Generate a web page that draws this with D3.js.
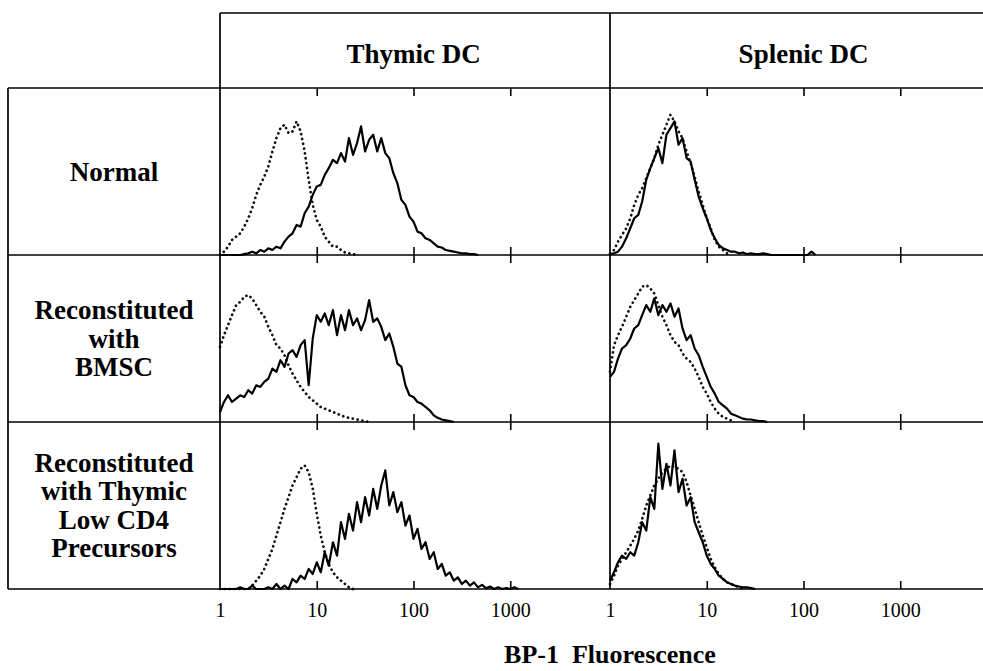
<!DOCTYPE html>
<html><head><meta charset="utf-8">
<script src="https://cdn.jsdelivr.net/npm/d3@7"></script>
<style>body{margin:0;background:#fff}svg{display:block}</style>
</head><body><svg id="c" width="983" height="671"></svg>
<script>
// ---------- DATA ----------
// log-spaced fluorescence channel centres (24 per decade)
const fluorBins = [1,1.1,1.21,1.33,1.47,1.62,1.78,1.96,2.15,2.37,2.61,2.87,3.16,3.48,3.83,4.22,4.64,5.11,5.62,6.19,6.81,7.5,8.25,9.09,
  10,11,12.1,13.3,14.7,16.2,17.8,19.6,21.5,23.7,26.1,28.7,31.6,34.8,38.3,42.2,46.4,51.1,56.2,61.9,68.1,75,82.5,90.9,
  100,110,121,133,147,162,178,196,215,237,261,287,316,348,383,422,464,511,562,619,681,750,825,909,
  1000,1100,1210,1330,1470,1620,1780,1960,2150,2370,2610,2870];

const columns = ["Thymic DC", "Splenic DC"];
const rowLabels = [["Normal"], ["Reconstituted", "with", "BMSC"], ["Reconstituted", "with Thymic", "Low CD4", "Precursors"]];
const tickLabels = [1, 10, 100, 1000];
const axisTitle = "BP-1  Fluorescence";

// relative cell counts (% of panel height) per channel
const thymicNormalSolid = [0,0,0,0,0,0,0.5,1,2,1,3,2,4,3,5,4,8,11,13,18,17,25,29,36,41,42,48,52,57,55,61,56,70,60,67,77,62,69,72,62,70,61,58,49,43,33,30,23,20,14,13,10,9,7,5,4.5,3,2.5,2,1.5,1,1,0.5,0.5,0];
const thymicNormalDotted = [0,2,5,9,11,13,17,22,28,36,42,47,53,62,70,76,78,73,74,80,74,62,45,30,21,17,11,8,5,5,3,1.5,1,0.5,0];
const splenicNormalSolid = [0.5,1,2,5,10,16,22,24,32,45,52,58,64,55,72,76,80,66,70,58,56,45,35,28,22,15,10,6,4,3,2,2,1,1.5,0.5,1,0.5,0.5,1,0.5,0,0,0,0,0,0,0,0,0,0,2,0];
const splenicNormalDotted = [1,3,8,12,16,22,30,36,40,46,52,58,66,72,78,84,80,74,70,62,55,47,38,30,22,16,9,5,3,1,0];
const thymicBmscSolid = [6,12,16,12,14,16,15,19,17,22,21,24,26,32,30,37,33,41,43,39,46,49,22,50,64,60,65,58,67,52,64,55,67,58,62,55,61,73,60,62,57,49,53,45,35,33,22,16,15,12,11,9,7,4,2.5,1.5,1,0.5,0];
const thymicBmscDotted = [45,52,58,64,70,72,75,76,74,70,66,63,57,52,46,44,40,34,29,25,21,18,15,13,11,9,8,7,6,5,4,3,2.5,2,1.5,1,0.5,0];
const splenicBmscSolid = [27,30,38,44,46,50,56,58,64,70,66,74,64,70,66,71,63,68,56,49,52,44,40,33,27,21,17,12,10,8,5,4,3,2,1.5,1.5,1,0.5,0.5,0];
const splenicBmscDotted = [30,46,52,57,63,69,73,77,81,82,80,77,70,63,58,52,48,46,41,38,36,32,27,21,17,12,8,5,3,2,1,0];
const thymicLowCd4Solid = [0,0,0,0,0,1,0,0,2,0,0,0,1,0,3,0,2,0,6,4,8,6,12,9,16,10,22,14,28,20,40,30,45,35,52,40,55,44,60,48,62,71,50,58,46,52,38,44,30,36,24,28,18,22,12,15,8,10,5,7,3,5,2,4,1,2.5,0.5,1.5,0,1,0,0.5,0,1,0];
const thymicLowCd4Dotted = [0,0,0,0,0,0,0,0,2,5,8,12,18,24,32,40,48,55,62,67,72,74,70,60,45,32,22,15,10,7,5,3,1,0];
const splenicLowCd4Solid = [5,10,16,20,18,22,20,28,40,35,55,48,87,60,75,62,83,58,66,50,55,40,34,28,20,15,12,8,6,4,3,2,1.5,1,1,0.5,0];
const splenicLowCd4Dotted = [3,8,14,18,22,26,30,35,42,50,56,62,66,70,72,74,73,72,70,64,56,48,40,32,25,18,13,9,6,4,3,2,1,0];

const panels = [
  {row:0, col:0, solid:thymicNormalSolid,  dotted:thymicNormalDotted},
  {row:0, col:1, solid:splenicNormalSolid, dotted:splenicNormalDotted},
  {row:1, col:0, solid:thymicBmscSolid,    dotted:thymicBmscDotted},
  {row:1, col:1, solid:splenicBmscSolid,   dotted:splenicBmscDotted},
  {row:2, col:0, solid:thymicLowCd4Solid,  dotted:thymicLowCd4Dotted},
  {row:2, col:1, solid:splenicLowCd4Solid, dotted:splenicLowCd4Dotted}
];

// ---------- LAYOUT ----------
const svg = d3.select("#c");
const W = 983;
const font = '"Liberation Serif","Times New Roman",Times,serif';
const gridLeft = 8, gridTop = 13, headerBottom = 88, rowH = 167;
const colX = [220, 610], decadePx = 96.75;
const rowTop = i => headerBottom + i * rowH;
const gridBottom = rowTop(3);
const labelSize = 27;

const g = svg.append("g");

panels.forEach(p => {
  const x = d3.scaleLog().domain([1, 10000]).range([colX[p.col], colX[p.col] + 4 * decadePx]);
  const y = d3.scaleLinear().domain([0, 100]).range([rowTop(p.row + 1), rowTop(p.row)]);
  const line = d3.line().x((d, i) => x(fluorBins[i])).y(d => y(d));

  g.append("path").attr("d", line(p.dotted))
    .attr("fill", "none").attr("stroke", "#111").attr("stroke-width", 2.7)
    .attr("stroke-linecap", "round").attr("stroke-dasharray", "0.1 4.8");
  g.append("path").attr("d", line(p.solid))
    .attr("fill", "none").attr("stroke", "#000").attr("stroke-width", 2.2)
    .attr("stroke-linejoin", "round");

  // inward ticks top & bottom
  g.append("g").attr("transform", `translate(0,${rowTop(p.row)})`)
    .call(d3.axisTop(x).tickValues([10, 100, 1000]).tickSize(-8).tickFormat(""))
    .call(a => a.select(".domain").remove());
  g.append("g").attr("transform", `translate(0,${rowTop(p.row + 1)})`)
    .call(d3.axisBottom(x).tickValues([10, 100, 1000]).tickSize(-8).tickFormat(""))
    .call(a => a.select(".domain").remove());

  if (p.row === 2) {
    const ax = g.append("g").attr("transform", `translate(0,${gridBottom})`)
      .call(d3.axisBottom(x).tickValues(tickLabels).tickSize(0).tickPadding(14).tickFormat(d3.format("d")));
    ax.select(".domain").remove();
    ax.selectAll("text").attr("font-family", font).attr("font-size", 20).attr("fill", "#000");
  }
});
g.selectAll(".tick line").attr("stroke", "#000").attr("stroke-width", 1.6);

// grid borders
const hLines = [
  [colX[0], W, gridTop],
  [gridLeft, W, headerBottom],
  [gridLeft, W, rowTop(1)],
  [gridLeft, W, rowTop(2)],
  [gridLeft, W, gridBottom]
];
hLines.forEach(([x1, x2, yy]) => g.append("line").attr("x1", x1).attr("x2", x2).attr("y1", yy).attr("y2", yy)
  .attr("stroke", "#000").attr("stroke-width", 1.7));
const vLines = [[gridLeft, headerBottom], [colX[0], gridTop], [colX[1], gridTop]];
vLines.forEach(([xx, y1]) => g.append("line").attr("x1", xx).attr("x2", xx).attr("y1", y1).attr("y2", gridBottom)
  .attr("stroke", "#000").attr("stroke-width", 1.7));

// column headers
columns.forEach((c, i) => {
  const cx = colX[i] + 2 * decadePx;
  g.append("text").attr("x", cx).attr("y", 63).attr("text-anchor", "middle")
    .attr("font-family", font).attr("font-weight", "bold").attr("font-size", labelSize).text(c);
});

// row labels
const lineGap = 28.5;
rowLabels.forEach((lines, r) => {
  const cy = rowTop(r) + rowH / 2 + 9;
  const t = g.append("text").attr("text-anchor", "middle")
    .attr("font-family", font).attr("font-weight", "bold").attr("font-size", labelSize);
  lines.forEach((s, k) => {
    t.append("tspan").attr("x", 114).attr("y", cy + (k - (lines.length - 1) / 2) * lineGap).text(s);
  });
});

// axis title
g.append("text").attr("x", colX[1]).attr("y", 663).attr("text-anchor", "middle")
  .attr("font-family", font).attr("font-weight", "bold").attr("font-size", 26)
  .attr("xml:space", "preserve").style("white-space", "pre").text(axisTitle);
</script></body></html>
